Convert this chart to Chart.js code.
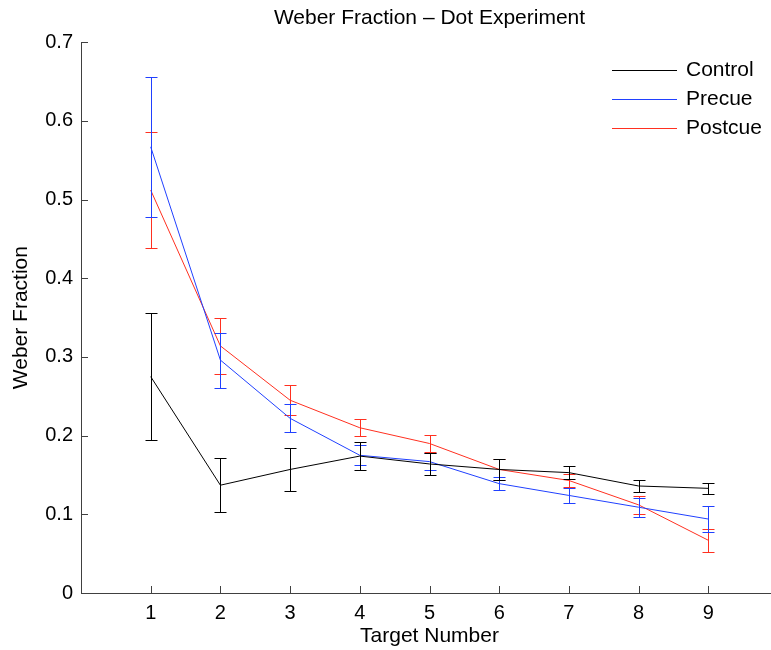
<!DOCTYPE html>
<html lang="en">
<head>
<meta charset="UTF-8">
<title>Weber Fraction - Dot Experiment</title>
<script src="https://cdn.jsdelivr.net/npm/chart.js"></script>
<style>
    html, body { margin: 0; padding: 0; overflow: hidden; background: #fff; }
    /* axes run 0..10, the right edge of the figure is cut by the window */
    .chart-container { width: 778px; height: 650px; }
</style>
</head>
<body>

<div class="chart-container">
    <canvas id="weberChart"></canvas>
</div>

<script>
    // x axis: number of targets
    var targets = [1, 2, 3, 4, 5, 6, 7, 8, 9];

    // mean Weber fraction for each condition
    var control = [0.275, 0.137, 0.157, 0.174, 0.164, 0.157, 0.153, 0.136, 0.133];
    var precue  = [0.567, 0.296, 0.222, 0.175, 0.167, 0.139, 0.124, 0.109, 0.094];
    var postcue = [0.512, 0.314, 0.245, 0.210, 0.190, 0.157, 0.143, 0.112, 0.067];

    // half length of the error bars
    var controlErr = [0.081, 0.034, 0.027, 0.018, 0.0135, 0.013, 0.008, 0.008, 0.007];
    var precueErr  = [0.089, 0.035, 0.018, 0.0125, 0.011, 0.008, 0.010, 0.012, 0.016];
    var postcueErr = [0.074, 0.0355, 0.019, 0.011, 0.011, 0.0137, 0.008, 0.011, 0.0145];

    // tick positions / labels
    var xTicks = [1, 2, 3, 4, 5, 6, 7, 8, 9];
    var yTicks = [0, 0.1, 0.2, 0.3, 0.4, 0.5, 0.6, 0.7];
    var yTickLabels = ['0', '0.1', '0.2', '0.3', '0.4', '0.5', '0.6', '0.7'];

    var axisColor = '#404040';
    Chart.defaults.font.family = "'Liberation Sans', Arial, Helvetica, sans-serif";
    Chart.defaults.color = '#000';

    function points(values) {
        return targets.map(function(t, i) { return { x: t, y: values[i] }; });
    }

    // vertical error bars with small caps, drawn right after each line
    var errorBars = {
        id: 'errorBars',
        afterDatasetDraw: function(chart, args) {
            var ds = chart.data.datasets[args.index];
            if (!ds.errors) return;
            var ctx = chart.ctx;
            var xs = chart.scales.x, ys = chart.scales.y;
            ctx.save();
            ctx.strokeStyle = ds.borderColor;
            ctx.lineWidth = 1;
            ds.data.forEach(function(p, i) {
                var px = Math.round(xs.getPixelForValue(p.x)) + 0.5;
                var top = Math.round(ys.getPixelForValue(p.y + ds.errors[i])) + 0.5;
                var bot = Math.round(ys.getPixelForValue(p.y - ds.errors[i])) + 0.5;
                ctx.beginPath();
                ctx.moveTo(px, top);
                ctx.lineTo(px, bot);
                ctx.moveTo(px - 6, top);
                ctx.lineTo(px + 6, top);
                ctx.moveTo(px - 6, bot);
                ctx.lineTo(px + 6, bot);
                ctx.stroke();
            });
            ctx.restore();
        }
    };

    // inward tick marks on both axes
    var innerTicks = {
        id: 'innerTicks',
        beforeDatasetsDraw: function(chart) {
            var ctx = chart.ctx, area = chart.chartArea;
            var xs = chart.scales.x, ys = chart.scales.y;
            ctx.save();
            ctx.strokeStyle = axisColor;
            ctx.lineWidth = 1;
            ctx.beginPath();
            xTicks.forEach(function(v) {
                var px = Math.round(xs.getPixelForValue(v)) + 0.5;
                ctx.moveTo(px, area.bottom);
                ctx.lineTo(px, area.bottom - 7);
            });
            yTicks.forEach(function(v) {
                var py = Math.round(ys.getPixelForValue(v)) + 0.5;
                ctx.moveTo(area.left, py);
                ctx.lineTo(area.left + 7, py);
            });
            ctx.stroke();
            ctx.restore();
        }
    };

    // legend box in the upper right corner
    var cornerLegend = {
        id: 'cornerLegend',
        afterDraw: function(chart) {
            var ctx = chart.ctx, area = chart.chartArea;
            var x0 = area.right - 166;
            ctx.save();
            ctx.font = "21px 'Liberation Sans', Arial, sans-serif";
            ctx.textBaseline = 'middle';
            ctx.fillStyle = '#000';
            chart.data.datasets.forEach(function(ds, i) {
                var y = Math.round(area.top + 28 + i * 28.7) + 0.5;
                ctx.strokeStyle = ds.borderColor;
                ctx.lineWidth = 1;
                ctx.beginPath();
                ctx.moveTo(x0, y);
                ctx.lineTo(x0 + 65, y);
                ctx.stroke();
                ctx.fillText(ds.label, x0 + 74, y);
            });
            ctx.restore();
        }
    };

    var ctx = document.getElementById('weberChart').getContext('2d');
    var weberChart = new Chart(ctx, {
        type: 'line',
        data: {
            datasets: [
                { label: 'Control', data: points(control), errors: controlErr, borderColor: '#000000' },
                { label: 'Precue', data: points(precue), errors: precueErr, borderColor: '#2040ff' },
                { label: 'Postcue', data: points(postcue), errors: postcueErr, borderColor: '#ff3020' }
            ]
        },
        options: {
            responsive: true,
            maintainAspectRatio: false,
            animation: false,
            datasets: {
                line: { borderWidth: 1, pointRadius: 0, tension: 0, fill: false }
            },
            layout: { padding: 0 },
            plugins: {
                legend: { display: false },
                tooltip: { enabled: false },
                title: {
                    display: true,
                    text: 'Weber Fraction \u2013 Dot Experiment',
                    fullSize: false,
                    color: '#000',
                    font: { size: 21, weight: 'normal' },
                    padding: { top: 6, bottom: 11 }
                }
            },
            scales: {
                x: {
                    type: 'linear',
                    min: 0,
                    max: 10,
                    afterBuildTicks: function(scale) {
                        scale.ticks = xTicks.map(function(v) { return { value: v }; });
                    },
                    afterFit: function(scale) { scale.height = 57; },
                    grid: { display: false, drawTicks: false },
                    border: { color: axisColor, width: 1 },
                    ticks: { color: '#000', font: { size: 20 }, padding: 8 },
                    title: {
                        display: true,
                        text: 'Target Number',
                        color: '#000',
                        font: { size: 21 },
                        padding: { top: 0, bottom: 1 }
                    }
                },
                y: {
                    type: 'linear',
                    min: 0,
                    max: 0.7,
                    afterBuildTicks: function(scale) {
                        scale.ticks = yTicks.map(function(v) { return { value: v }; });
                    },
                    afterFit: function(scale) { scale.width = 81; },
                    grid: { display: false, drawTicks: false },
                    border: { color: axisColor, width: 1 },
                    ticks: {
                        color: '#000',
                        font: { size: 20 },
                        padding: 8,
                        callback: function(value, index) { return yTickLabels[index]; }
                    },
                    title: {
                        display: true,
                        text: 'Weber Fraction',
                        color: '#000',
                        font: { size: 21 },
                        padding: { top: 9, bottom: 0 }
                    }
                }
            }
        },
        plugins: [innerTicks, errorBars, cornerLegend]
    });
</script>

</body>
</html>
